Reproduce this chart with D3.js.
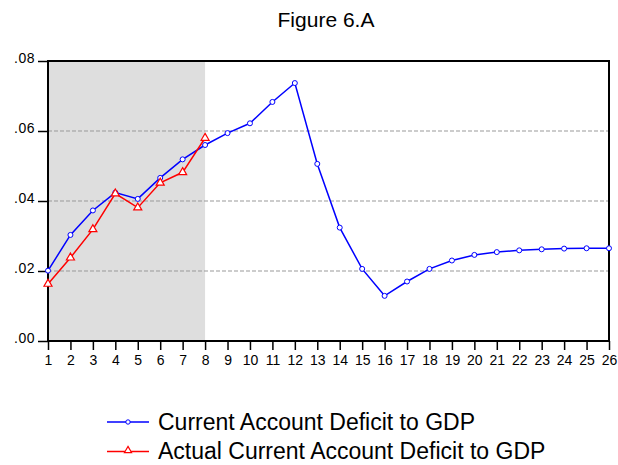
<!DOCTYPE html>
<html>
<head>
<meta charset="utf-8">
<script src="https://cdn.jsdelivr.net/npm/d3@7"></script>
<style>
  body { margin: 0; background: #fff; }
  text { font-family: "Liberation Sans", Arial, sans-serif; fill: #000; }
</style>
</head>
<body>
<div id="main"></div>
<script>
// periods 1..26
let periods = d3.range(1, 27);

// simulated current account deficit to GDP
let currentDeficit = [0.0201, 0.0303, 0.0373, 0.0424, 0.0406, 0.0466, 0.0519, 0.0560,
  0.0594, 0.0622, 0.0683, 0.0737, 0.0506, 0.0324, 0.0206, 0.0129, 0.0170, 0.0206,
  0.0230, 0.0246, 0.0254, 0.0259, 0.0262, 0.0264, 0.0265, 0.0265];

// actual values, only first 8 periods
let actualDeficit = [0.0163, 0.0238, 0.0319, 0.0421, 0.0381, 0.0452, 0.0482, 0.0580];

let yTicks = [0, 0.02, 0.04, 0.06, 0.08];
let yTickLabels = ['.00', '.02', '.04', '.06', '.08'];
let shadeRange = [1, 8];
let seriesNames = ['Current Account Deficit to GDP', 'Actual Current Account Deficit to GDP'];

let width = 618, height = 465;
let margin = {left: 48, right: 9, top: 61, bottom: 124};

let svg = d3.select('#main').append('svg')
  .attr('width', width)
  .attr('height', height);

let x = d3.scaleLinear()
  .domain([1, 26])
  .range([margin.left, width - margin.right]);

let y = d3.scaleLinear()
  .domain([0, 0.08])
  .range([height - margin.bottom, margin.top]);

// title
svg.append('text')
  .attr('x', 326)
  .attr('y', 27)
  .attr('text-anchor', 'middle')
  .style('font-size', '21px')
  .text('Figure 6.A');

// shaded area
svg.append('rect')
  .attr('x', x(shadeRange[0]))
  .attr('y', y(0.08))
  .attr('width', x(shadeRange[1]) - x(shadeRange[0]))
  .attr('height', y(0) - y(0.08))
  .attr('fill', '#dedede');

// dashed grid lines
svg.append('g')
  .selectAll('line')
  .data(yTicks.filter(d => d > 0 && d < 0.08))
  .enter().append('line')
  .attr('x1', x(1))
  .attr('x2', x(26))
  .attr('y1', d => y(d))
  .attr('y2', d => y(d))
  .attr('stroke', '#999')
  .attr('stroke-width', 1)
  .attr('stroke-dasharray', '4,2');

// axes
let yAxis = svg.append('g')
  .attr('transform', 'translate(' + margin.left + ',0)')
  .call(d3.axisLeft(y)
    .tickValues(yTicks)
    .tickSize(10)
    .tickPadding(3)
    .tickFormat((d, i) => yTickLabels[i]));

let xAxis = svg.append('g')
  .attr('transform', 'translate(0,' + y(0) + ')')
  .call(d3.axisBottom(x)
    .tickValues(periods)
    .tickSize(9)
    .tickPadding(5)
    .tickFormat(d3.format('d')));

[yAxis, xAxis].forEach(function(a) {
  a.select('.domain').remove();
  a.selectAll('line').attr('stroke', '#000').attr('stroke-width', 1.5);
  a.selectAll('text')
    .style('font-size', '14px')
    .style('font-family', '"Liberation Sans", Arial, sans-serif');
});
yAxis.selectAll('text').attr('dy', '0.1em').style('letter-spacing', '0.5px');

// frame
svg.append('rect')
  .attr('x', x(1))
  .attr('y', y(0.08))
  .attr('width', x(26) - x(1))
  .attr('height', y(0) - y(0.08))
  .attr('fill', 'none')
  .attr('stroke', '#000')
  .attr('stroke-width', 2);

let line = d3.line()
  .x((d, i) => x(periods[i]))
  .y(d => y(d));

// blue series
svg.append('path')
  .datum(currentDeficit)
  .attr('d', line)
  .attr('fill', 'none')
  .attr('stroke', '#0000ff')
  .attr('stroke-width', 1.5);

svg.append('g')
  .selectAll('circle')
  .data(currentDeficit)
  .enter().append('circle')
  .attr('cx', (d, i) => x(periods[i]))
  .attr('cy', d => y(d))
  .attr('r', 2.5)
  .attr('fill', '#fff')
  .attr('stroke', '#0000ff')
  .attr('stroke-width', 1);

// red series
svg.append('path')
  .datum(actualDeficit)
  .attr('d', line)
  .attr('fill', 'none')
  .attr('stroke', '#ff0000')
  .attr('stroke-width', 1.5);

let tri = d3.symbol().type(d3.symbolTriangle).size(28);

svg.append('g')
  .selectAll('path')
  .data(actualDeficit)
  .enter().append('path')
  .attr('d', tri)
  .attr('transform', (d, i) => 'translate(' + x(periods[i]) + ',' + y(d) + ')')
  .attr('fill', '#fff')
  .attr('stroke', '#ff0000')
  .attr('stroke-width', 1.2);

// legend
let legend = svg.append('g');
let legendRows = [
  {name: seriesNames[0], color: '#0000ff', marker: 'circle', y: 422},
  {name: seriesNames[1], color: '#ff0000', marker: 'triangle', y: 451.5}
];

legendRows.forEach(function(r) {
  legend.append('line')
    .attr('x1', 107).attr('x2', 149)
    .attr('y1', r.y).attr('y2', r.y)
    .attr('stroke', r.color)
    .attr('stroke-width', 1.5);
  if (r.marker === 'circle') {
    legend.append('circle')
      .attr('cx', 128).attr('cy', r.y).attr('r', 2.2)
      .attr('fill', '#fff').attr('stroke', r.color);
  } else {
    legend.append('path')
      .attr('d', d3.symbol().type(d3.symbolTriangle).size(22))
      .attr('transform', 'translate(128,' + (r.y - 1) + ')')
      .attr('fill', '#fff').attr('stroke', r.color).attr('stroke-width', 1.2);
  }
  legend.append('text')
    .attr('x', 158)
    .attr('y', r.y + 7.5)
    .style('font-size', '23px')
    .text(r.name);
});
</script>
</body>
</html>
